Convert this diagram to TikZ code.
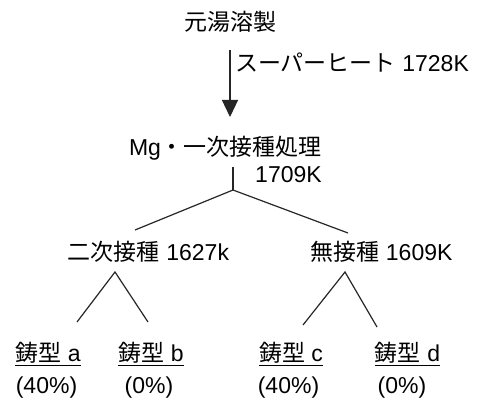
\documentclass[tikz,border=0pt]{standalone}
\usepackage{fontspec}
\setmainfont{Liberation Sans}
\newfontfamily\jp{Noto Sans CJK JP}
\usetikzlibrary{arrows.meta}
\tikzset{
  txt/.style={inner sep=0pt, font=\fontsize{23}{27}\selectfont},
  ln/.style={line width=1.2pt, draw=black!85},
}
\begin{document}
\begin{tikzpicture}[x=1pt,y=-1pt]
\useasboundingbox (0,0) rectangle (477,404);
% texts
\node[txt] (t1) at (230,22) {\jp 元湯溶製};
\node[txt, anchor=west] (sh) at (235,63) {{\jp スーパーヒート} 1728K};
\node[txt] (mg) at (225.5,148) {Mg{\jp ・一次接種処理}};
\node[txt] (k1709) at (288.5,175) {1709K};
\node[txt] (n2) at (148.5,252) {{\jp 二次接種} 1627k};
\node[txt] (n0) at (381.5,252) {{\jp 無接種} 1609K};
\node[txt] (ma) at (48,354) {\underline{{\jp 鋳型} a}};
\node[txt] (mb) at (151,354) {\underline{{\jp 鋳型} b}};
\node[txt] (mc) at (291,354) {\underline{{\jp 鋳型} c}};
\node[txt] (md) at (407.5,354) {\underline{{\jp 鋳型} d}};
\node[txt] (pa) at (46.5,388) {(40\%)};
\node[txt] (pb) at (149,388) {(0\%)};
\node[txt] (pc) at (288.5,388) {(40\%)};
\node[txt] (pd) at (402,388) {(0\%)};
% connector points
\coordinate (a0) at (230,50);
\coordinate (a1) at (230,117);
\coordinate (s0) at (233,167);
\coordinate (b1) at (233,190);
\coordinate (bl) at (135,230);
\coordinate (br) at (348,233);
\coordinate (vl) at (115,272);
\coordinate (vla) at (77,322);
\coordinate (vlb) at (148,322);
\coordinate (vr) at (345,272);
\coordinate (vrc) at (303,325);
\coordinate (vrd) at (377,327);
% connectors
\draw[ln, -{Triangle[width=16pt,length=17pt]}] (a0) -- (a1);
\draw[ln] (s0) -- (b1);
\draw[ln] (bl) -- (b1) -- (br);
\draw[ln] (vla) -- (vl) -- (vlb);
\draw[ln] (vrc) -- (vr) -- (vrd);
\end{tikzpicture}
\end{document}
